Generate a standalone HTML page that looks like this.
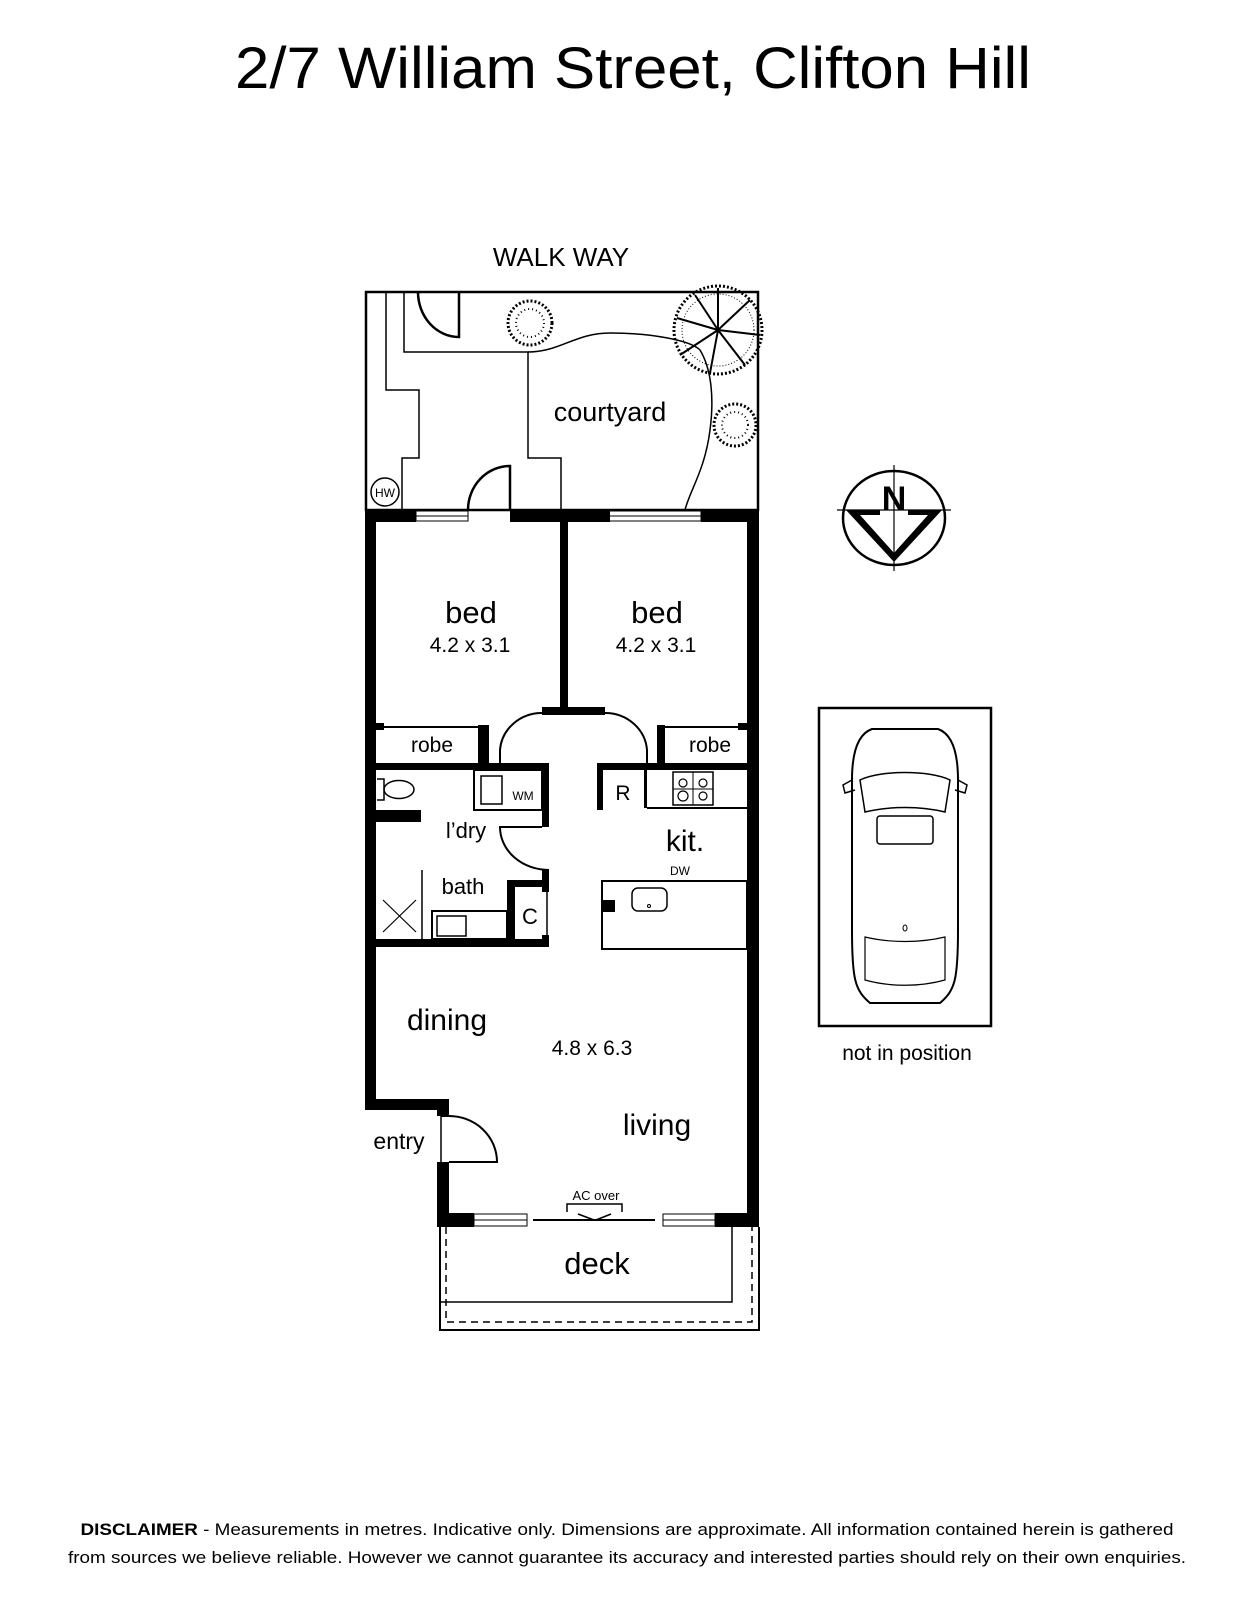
<!DOCTYPE html>
<html><head><meta charset="utf-8"><style>
html,body{margin:0;padding:0;background:#fff}
svg{display:block}
text{font-family:"Liberation Sans",Arial,sans-serif;fill:#000}
</style></head><body>
<svg width="1253" height="1600" viewBox="0 0 1253 1600" xmlns="http://www.w3.org/2000/svg">
<text x="633" y="88" font-size="58" text-anchor="middle" textLength="796" lengthAdjust="spacingAndGlyphs">2/7 William Street, Clifton Hill</text>
<text x="561" y="266" font-size="26" text-anchor="middle">WALK WAY</text>

<!-- courtyard -->
<g fill="none" stroke="#000" stroke-width="1.5">
<rect x="366" y="292" width="392" height="218" stroke-width="2.5"/>
<polyline points="386,292 386,390 419,390 419,458 402,458 402,510"/>
<path d="M418,292 A41 45 0 0 0 459,337 L459,292" stroke-width="2.5"/>
<path d="M510,510 L510,466 A42 44 0 0 0 468,510" stroke-width="2.5"/>
<polyline points="404,292 404,352 528,352 528,458 561,458 561,510"/>
<path d="M528,352 C560,352 575,333 610,333 C650,333 690,340 700,350 C712,370 714,400 710,430 C705,470 690,490 685,510"/>
<circle cx="385" cy="492" r="14"/>
</g>
<text x="385" y="497" font-size="12" text-anchor="middle">HW</text>
<g fill="none" stroke="#000">
<circle cx="530" cy="323" r="22" stroke-width="3" stroke-dasharray="2 2"/>
<circle cx="530" cy="323" r="14" stroke-width="2" stroke-dasharray="1 3"/>
<circle cx="735" cy="425" r="21" stroke-width="3" stroke-dasharray="2 2"/>
<circle cx="735" cy="425" r="13" stroke-width="2" stroke-dasharray="1 3"/>
<circle cx="718" cy="330" r="44" stroke-width="3" stroke-dasharray="2 2"/>
<circle cx="718" cy="330" r="36" stroke-width="1" stroke-dasharray="1 2"/>
<path d="M718,330 L718,288 M718,330 L750,300 M718,330 L760,335 M718,330 L745,365 M718,330 L710,373 M718,330 L680,355 M718,330 L677,318 M718,330 L695,295" stroke-width="2"/>
</g>
<text x="610" y="421" font-size="27" text-anchor="middle">courtyard</text>

<!-- thick walls -->
<g fill="#000">
<rect x="365" y="510" width="51" height="12"/>
<rect x="510" y="510" width="100" height="12"/>
<rect x="701" y="510" width="58" height="12"/>
<rect x="365" y="510" width="11" height="600"/>
<rect x="747" y="510" width="12" height="717"/>
<rect x="560" y="510" width="8" height="200"/>
<rect x="542" y="707" width="63" height="8"/>
<rect x="365" y="1099" width="84" height="11"/>
<rect x="437" y="1099" width="12" height="17"/>
<rect x="437" y="1162" width="12" height="65"/>
<rect x="437" y="1213" width="37" height="14"/>
<rect x="715" y="1213" width="44" height="14"/>
<rect x="376" y="763" width="173" height="7"/>
<rect x="598" y="763" width="149" height="7"/>
<rect x="478" y="725" width="11" height="40"/>
<rect x="657" y="725" width="8" height="40"/>
<rect x="376" y="723" width="8" height="7"/>
<rect x="738" y="723" width="9" height="7"/>
<rect x="542" y="763" width="7" height="64"/>
<rect x="542" y="870" width="7" height="22"/>
<rect x="542" y="935" width="7" height="12"/>
<rect x="376" y="939" width="173" height="8"/>
<rect x="376" y="810" width="45" height="12"/>
<rect x="507" y="880" width="8" height="62"/>
<rect x="507" y="880" width="42" height="7"/>
<rect x="597" y="763" width="6" height="47"/>
<rect x="644" y="763" width="3" height="45"/>
<rect x="603" y="900" width="12" height="12"/>
</g>
<g fill="none" stroke="#000" stroke-width="2">
<rect x="416" y="511" width="52" height="10" stroke-width="1"/>
<line x1="416" y1="516" x2="468" y2="516" stroke-width="1"/>
<rect x="609" y="511" width="92" height="10" stroke-width="1"/>
<line x1="609" y1="516" x2="701" y2="516" stroke-width="1"/>
<rect x="474" y="1214" width="53" height="12" stroke-width="1"/>
<line x1="474" y1="1220" x2="527" y2="1220" stroke-width="1"/>
<rect x="663" y="1214" width="52" height="12" stroke-width="1"/>
<line x1="663" y1="1220" x2="715" y2="1220" stroke-width="1"/>
<line x1="533" y1="1220" x2="655" y2="1220"/>
<path d="M567,1212 L567,1204 L622,1204 L622,1212" stroke-width="1.5"/>
<path d="M578,1214 L594,1220 L578,1220 M611,1214 L596,1220 L611,1220" stroke-width="1.5"/>
<line x1="376" y1="727" x2="478" y2="727"/>
<line x1="665" y1="727" x2="747" y2="727"/>
<path d="M500,765 L500,750 A42 40 0 0 1 542,713"/>
<path d="M605,713 A42 40 0 0 1 647,750 L647,765"/>
<!-- laundry door -->
<path d="M542,827 L500,827 A49 43 0 0 0 549,870"/>
<line x1="547" y1="892" x2="547" y2="935" stroke-width="1.5"/>
<rect x="474" y="770" width="68" height="40"/>
<rect x="481" y="776" width="21" height="28" stroke-width="1.5"/>
<path d="M377,779 L384,779 L384,800 L377,800" stroke-width="1.5"/>
<ellipse cx="399" cy="789.5" rx="15" ry="9" stroke-width="1.5"/>
<line x1="422" y1="870" x2="422" y2="939" stroke-width="1.5"/>
<path d="M383,900 L416,932 M416,900 L383,932" stroke-width="1.2"/>
<rect x="432" y="911" width="75" height="28"/>
<rect x="437" y="916" width="29" height="20" stroke-width="1.5"/>
<line x1="647" y1="808" x2="747" y2="808"/>
<rect x="673" y="772" width="40" height="33" stroke-width="1.5"/>
<circle cx="683" cy="783" r="4" stroke-width="1.2"/><circle cx="703" cy="783" r="4" stroke-width="1.2"/>
<circle cx="683" cy="796" r="5" stroke-width="1.2"/><circle cx="703" cy="796" r="4" stroke-width="1.2"/>
<line x1="673" y1="789" x2="713" y2="789" stroke-width="1"/><line x1="693" y1="772" x2="693" y2="805" stroke-width="1"/>
<rect x="602" y="881" width="145" height="68"/>
<rect x="632" y="888" width="35" height="23" rx="6" stroke-width="1.5"/>
<circle cx="649" cy="906" r="1.5" stroke-width="1"/>
<line x1="441" y1="1116" x2="441" y2="1162" stroke-width="1.5"/>
<path d="M441,1116 L449,1116 A48 46 0 0 1 497,1162 L449,1162"/>
<path d="M440,1227 L440,1330 L759,1330 L759,1227" stroke-width="2"/>
<path d="M440,1302 L732,1302 L732,1227" stroke-width="1.5"/>
<path d="M446,1227 L446,1322 L752,1322 L752,1227" stroke-width="1.5" stroke-dasharray="7 5"/>
</g>

<g text-anchor="middle">
<text x="471" y="623" font-size="31">bed</text>
<text x="470" y="652" font-size="21">4.2 x 3.1</text>
<text x="657" y="623" font-size="31">bed</text>
<text x="656" y="652" font-size="21">4.2 x 3.1</text>
<text x="432" y="752" font-size="21">robe</text>
<text x="710" y="752" font-size="21">robe</text>
<text x="623" y="800" font-size="21">R</text>
<text x="523" y="800" font-size="12">WM</text>
<text x="466" y="838" font-size="22">l’dry</text>
<text x="463" y="894" font-size="22">bath</text>
<text x="530" y="924" font-size="22">C</text>
<text x="685" y="851" font-size="30">kit.</text>
<text x="680" y="875" font-size="12">DW</text>
<text x="447" y="1030" font-size="30">dining</text>
<text x="592" y="1055" font-size="21">4.8 x 6.3</text>
<text x="657" y="1135" font-size="30">living</text>
<text x="399" y="1149" font-size="23">entry</text>
<text x="596" y="1200" font-size="13">AC over</text>
<text x="597" y="1274" font-size="31">deck</text>
</g>

<g stroke="#000" fill="none">
<ellipse cx="894" cy="518" rx="51" ry="47" stroke-width="2.5"/>
<line x1="837" y1="510" x2="951" y2="510" stroke-width="1.2"/>
<line x1="894" y1="465" x2="894" y2="571" stroke-width="1.2"/>
<path d="M846,510 L880,510 L880,515 L860,515 L894,553 L928,515 L908,515 L908,510 L942,510 L894,562 Z" fill="#000" stroke="none"/>
</g>
<text x="894" y="510" font-size="34" font-weight="bold" text-anchor="middle">N</text>

<rect x="819" y="708" width="172" height="318" fill="none" stroke="#000" stroke-width="2.5"/>
<g fill="none" stroke="#000" stroke-width="2">
<path d="M872,729 L938,729 C955,735 958,760 958,780 L958,930 C958,980 955,990 940,1003 L870,1003 C855,990 852,980 852,930 L852,780 C852,760 855,735 872,729 Z"/>
<path d="M860,780 C880,770 930,770 950,780 L945,812 C920,806 890,806 865,812 Z" stroke-width="1.5"/>
<rect x="877" y="816" width="56" height="28" rx="3" stroke-width="1.5"/>
<path d="M865,937 C890,943 920,943 945,937 L945,980 C920,987 890,987 865,980 Z" stroke-width="1.2"/>
<path d="M852,780 L843,785 L845,793 L855,790 M958,780 L967,785 L965,793 L955,790" stroke-width="1.5"/>
<ellipse cx="905" cy="928" rx="2" ry="3" stroke-width="1"/>
</g>
<text x="907" y="1060" font-size="21" text-anchor="middle">not in position</text>

<text x="627" y="1535" font-size="17" text-anchor="middle" textLength="1093" lengthAdjust="spacingAndGlyphs"><tspan font-weight="bold">DISCLAIMER</tspan> - Measurements in metres. Indicative only. Dimensions are approximate. All information contained herein is gathered</text>
<text x="627" y="1563" font-size="17" text-anchor="middle" textLength="1118" lengthAdjust="spacingAndGlyphs">from sources we believe reliable. However we cannot guarantee its accuracy and interested parties should rely on their own enquiries.</text>
</svg>
</body></html>
